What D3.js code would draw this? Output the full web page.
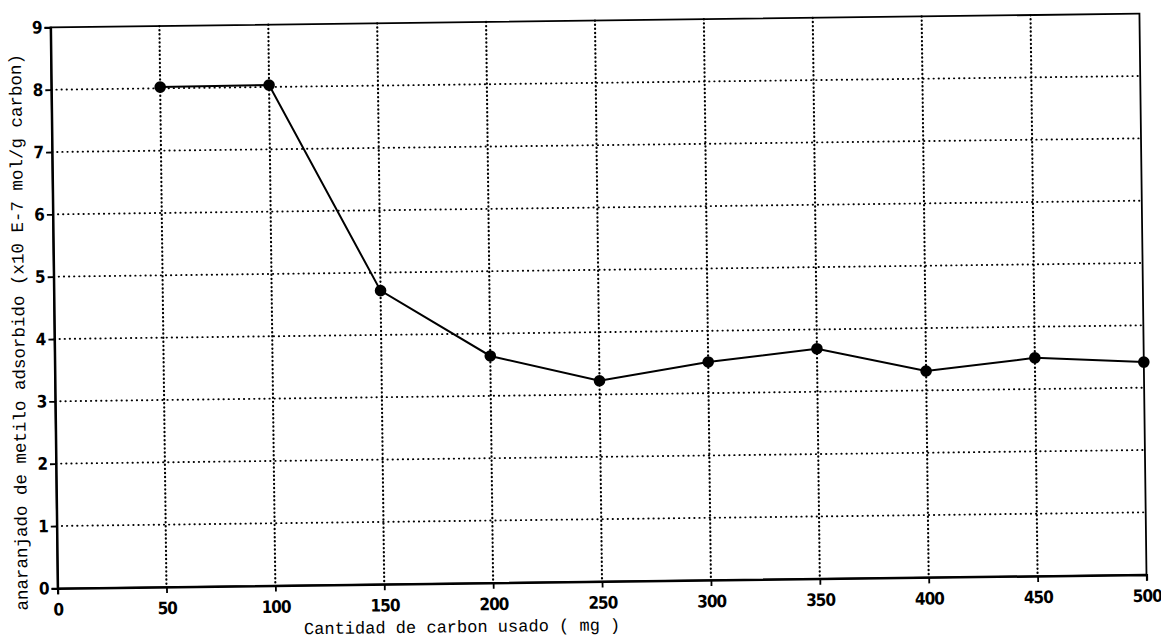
<!DOCTYPE html>
<html>
<head>
<meta charset="utf-8">
<script src="https://cdn.jsdelivr.net/npm/d3@7/dist/d3.min.js"></script>
<style>
  html, body { margin: 0; padding: 0; background: #fff; }
  svg { display: block; }
</style>
</head>
<body>
<svg id="chart" width="1161" height="639"></svg>
<script>
// Data
const carbonMg = [50, 100, 150, 200, 250, 300, 350, 400, 450, 500];
const adsorbed = [8.02, 8.03, 4.71, 3.64, 3.22, 3.50, 3.69, 3.31, 3.50, 3.41];
const xTickValues = [0, 50, 100, 150, 200, 250, 300, 350, 400, 450, 500];
const yTickValues = [0, 1, 2, 3, 4, 5, 6, 7, 8, 9];
const xTitle = "Cantidad de carbon usado ( mg )";
const yTitle = "anaranjado de metilo adsorbido (x10 E-7 mol/g carbon)";

const W = 1161, H = 639;
const plot = { left: 54, right: 1143, top: 20.5, bottom: 581.5 };
const tilt = -0.72;
const cx = (plot.left + plot.right) / 2, cy = (plot.top + plot.bottom) / 2;

const svg = d3.select("#chart");
const g = svg.append("g").attr("transform", `rotate(${tilt},${cx},${cy})`);

const x = d3.scaleLinear().domain([0, 500]).range([plot.left, plot.right]);
const y = d3.scaleLinear().domain([0, 9]).range([plot.bottom, plot.top]);

// Dotted grid
g.append("g").selectAll("line.vg")
  .data(xTickValues.filter(v => v > 0 && v < 500))
  .join("line")
  .attr("x1", d => x(d)).attr("x2", d => x(d))
  .attr("y1", plot.top).attr("y2", plot.bottom)
  .attr("stroke", "#000").attr("stroke-width", 2.2)
  .attr("stroke-linecap", "round").attr("stroke-dasharray", "0.3,3.8");

g.append("g").selectAll("line.hg")
  .data(yTickValues.filter(v => v > 0 && v < 9))
  .join("line")
  .attr("x1", plot.left).attr("x2", plot.right)
  .attr("y1", d => y(d)).attr("y2", d => y(d))
  .attr("stroke", "#000").attr("stroke-width", 1.9)
  .attr("stroke-linecap", "round").attr("stroke-dasharray", "0.3,4.8");

// Frame
g.append("rect")
  .attr("x", plot.left).attr("y", plot.top)
  .attr("width", plot.right - plot.left).attr("height", plot.bottom - plot.top)
  .attr("fill", "none").attr("stroke", "#000").attr("stroke-width", 1.8);

// Axes
const tickFont = "'Liberation Sans Narrow','DejaVu Sans Condensed','Arial Narrow',sans-serif";
const xAxis = g.append("g").attr("transform", `translate(0,${plot.bottom})`)
  .call(d3.axisBottom(x).tickValues(xTickValues).tickSize(6).tickPadding(5).tickFormat(d3.format("d")));
const yAxis = g.append("g").attr("transform", `translate(${plot.left},0)`)
  .call(d3.axisLeft(y).tickValues(yTickValues).tickSize(6).tickPadding(3).tickFormat(d3.format("d")));
[xAxis, yAxis].forEach(a => {
  a.select(".domain").attr("stroke", "#000").attr("stroke-width", 2.2);
  a.selectAll(".tick line").attr("stroke", "#000").attr("stroke-width", 1.8);
  a.selectAll(".tick text").attr("fill", "#000")
    .style("font-family", tickFont).style("font-size", "17px")
    .style("font-weight", "bold").style("letter-spacing", "-1px");
});
xAxis.selectAll(".tick text").attr("dy", "0.95em");

// Data line and markers
const line = d3.line().x((d, i) => x(carbonMg[i])).y(d => y(d));
g.append("path").datum(adsorbed)
  .attr("d", line).attr("fill", "none")
  .attr("stroke", "#000").attr("stroke-width", 2);
g.append("g").selectAll("circle")
  .data(adsorbed)
  .join("circle")
  .attr("cx", (d, i) => x(carbonMg[i])).attr("cy", d => y(d))
  .attr("r", 5.8).attr("fill", "#000");

// Titles
const titleFont = "'Liberation Mono','DejaVu Sans Mono',monospace";
g.append("text")
  .attr("x", plot.left + 404).attr("y", plot.bottom + 49)
  .attr("text-anchor", "middle")
  .style("font-family", titleFont).style("font-size", "17px")
  .text(xTitle);
g.append("text")
  .attr("transform", `translate(${plot.left - 30},${cy + 24}) rotate(-90)`)
  .attr("text-anchor", "middle")
  .style("font-family", titleFont).style("font-size", "17.5px")
  .text(yTitle);
</script>
</body>
</html>
